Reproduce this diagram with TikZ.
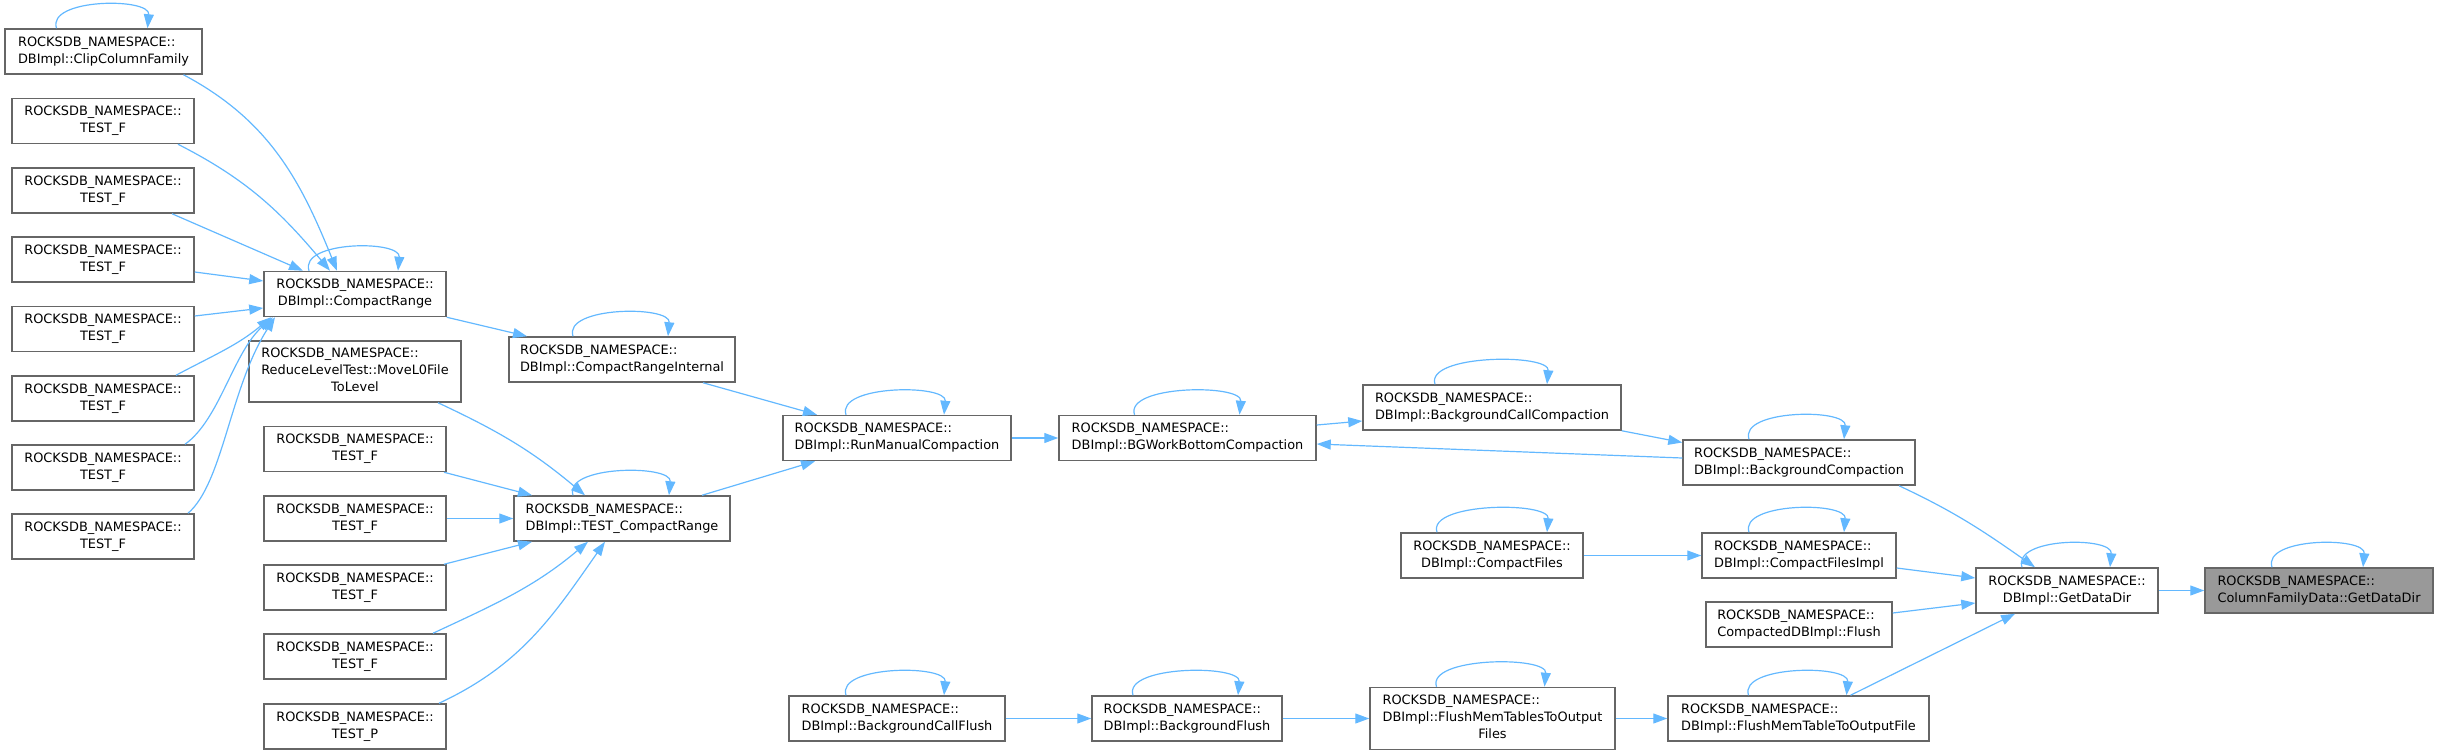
\documentclass[tikz,border=0pt]{standalone}
\usepackage{fontspec}
\setmainfont{DejaVu Sans}
\usepackage{xcolor}
\usepackage{tikz}
\usetikzlibrary{arrows.meta}

\definecolor{edgeblue}{HTML}{63B8FF}
\definecolor{boxgray}{HTML}{666666}
\definecolor{focusgray}{HTML}{999999}

\newcommand{\fname}[2]{\begin{tabular}{@{}l@{}}#1\\\multicolumn{1}{@{}c@{}}{#2}\end{tabular}}
\newcommand{\selfcall}[3]{\draw[call] ([xshift=-#2pt]#1.north) .. controls +(-10,30) and +(3,31) .. ([xshift=#3pt]#1.north);}

\begin{document}
\begin{tikzpicture}[
  x=1pt, y=1pt,
  >={Triangle[length=14pt,width=10pt]},
  func/.style={rectangle, draw=boxgray, line width=1.5pt, fill=white, minimum height=45pt, inner sep=3pt, font=\fontsize{12.9pt}{17pt}\selectfont},
  focus/.style={func, fill=focusgray},
  call/.style={->, draw=edgeblue, line width=1.2pt},
]
  \useasboundingbox (0,0) rectangle (2439,-755);

  \node[func, minimum width=197pt] (clip) at (103.5,-51.5) {\fname{ROCKSDB\_NAMESPACE::}{DBImpl::ClipColumnFamily}};
  \node[func, minimum width=182pt] (tf1) at (103,-121) {\fname{ROCKSDB\_NAMESPACE::}{TEST\_F}};
  \node[func, minimum width=182pt] (tf2) at (103,-190.5) {\fname{ROCKSDB\_NAMESPACE::}{TEST\_F}};
  \node[func, minimum width=182pt] (tf3) at (103,-259.5) {\fname{ROCKSDB\_NAMESPACE::}{TEST\_F}};
  \node[func, minimum width=182pt] (tf4) at (103,-329) {\fname{ROCKSDB\_NAMESPACE::}{TEST\_F}};
  \node[func, minimum width=182pt] (tf5) at (103,-398.5) {\fname{ROCKSDB\_NAMESPACE::}{TEST\_F}};
  \node[func, minimum width=182pt] (tf6) at (103,-467.5) {\fname{ROCKSDB\_NAMESPACE::}{TEST\_F}};
  \node[func, minimum width=182pt] (tf7) at (103,-536.5) {\fname{ROCKSDB\_NAMESPACE::}{TEST\_F}};

  \node[func, minimum width=182pt] (crange) at (355,-294) {\fname{ROCKSDB\_NAMESPACE::}{DBImpl::CompactRange}};
  \node[func, minimum width=212pt, minimum height=61pt] (move) at (355,-371.5) {\fname{ROCKSDB\_NAMESPACE::\\ReduceLevelTest::MoveL0File}{ToLevel}};
  \node[func, minimum width=182pt] (mtf1) at (355,-449) {\fname{ROCKSDB\_NAMESPACE::}{TEST\_F}};
  \node[func, minimum width=182pt] (mtf2) at (355,-518.5) {\fname{ROCKSDB\_NAMESPACE::}{TEST\_F}};
  \node[func, minimum width=182pt] (mtf3) at (355,-587.5) {\fname{ROCKSDB\_NAMESPACE::}{TEST\_F}};
  \node[func, minimum width=182pt] (mtf4) at (355,-656.5) {\fname{ROCKSDB\_NAMESPACE::}{TEST\_F}};
  \node[func, minimum width=182pt] (mtp) at (355,-726.5) {\fname{ROCKSDB\_NAMESPACE::}{TEST\_P}};

  \node[func, minimum width=226pt] (crint) at (622,-359.5) {\fname{ROCKSDB\_NAMESPACE::}{DBImpl::CompactRangeInternal}};
  \node[func, minimum width=216pt] (tcr) at (622,-518.5) {\fname{ROCKSDB\_NAMESPACE::}{DBImpl::TEST\_CompactRange}};

  \node[func, minimum width=228pt] (rmc) at (897,-438) {\fname{ROCKSDB\_NAMESPACE::}{DBImpl::RunManualCompaction}};
  \node[func, minimum width=216pt] (bgcf) at (897,-718.5) {\fname{ROCKSDB\_NAMESPACE::}{DBImpl::BackgroundCallFlush}};

  \node[func, minimum width=257pt] (bgw) at (1187.5,-438) {\fname{ROCKSDB\_NAMESPACE::}{DBImpl::BGWorkBottomCompaction}};
  \node[func, minimum width=190pt] (bgf) at (1187,-718.5) {\fname{ROCKSDB\_NAMESPACE::}{DBImpl::BackgroundFlush}};

  \node[func, minimum width=258pt] (bgcc) at (1492,-407.5) {\fname{ROCKSDB\_NAMESPACE::}{DBImpl::BackgroundCallCompaction}};
  \node[func, minimum width=182pt] (cfiles) at (1492,-555.5) {\fname{ROCKSDB\_NAMESPACE::}{DBImpl::CompactFiles}};
  \node[func, minimum width=245pt, minimum height=62pt] (fmtof) at (1492.5,-718.5) {\fname{ROCKSDB\_NAMESPACE::\\DBImpl::FlushMemTablesToOutput}{Files}};

  \node[func, minimum width=232pt] (bgc) at (1799,-462.5) {\fname{ROCKSDB\_NAMESPACE::}{DBImpl::BackgroundCompaction}};
  \node[func, minimum width=194pt] (cfimpl) at (1799,-555.5) {\fname{ROCKSDB\_NAMESPACE::}{DBImpl::CompactFilesImpl}};
  \node[func, minimum width=186pt] (cflush) at (1799,-624.5) {\fname{ROCKSDB\_NAMESPACE::}{CompactedDBImpl::Flush}};
  \node[func, minimum width=261pt] (fmtof1) at (1798.5,-718.5) {\fname{ROCKSDB\_NAMESPACE::}{DBImpl::FlushMemTableToOutputFile}};

  \node[func, minimum width=182pt] (gdd) at (2067,-590.5) {\fname{ROCKSDB\_NAMESPACE::}{DBImpl::GetDataDir}};
  \node[focus, minimum width=228pt] (cfd) at (2319,-590.5) {\fname{ROCKSDB\_NAMESPACE::}{ColumnFamilyData::GetDataDir}};

  \selfcall{clip}{47}{44}
  \draw[call] ([xshift=80pt]clip.south) to[out=-28,in=112] ([xshift=-18pt]crange.north);
  \draw[call] ([xshift=75pt]tf1.south) to[out=-27,in=130] ([xshift=-25pt]crange.north);
  \draw[call] ([xshift=69pt]tf2.south) -- ([xshift=-52pt]crange.north);
  \draw[call] ([yshift=-12.5pt]tf3.east) -- ([yshift=13pt]crange.west);
  \draw[call] ([yshift=13pt]tf4.east) -- ([yshift=-14pt]crange.west);
  \draw[call] ([xshift=73pt]tf5.north) to[out=28,in=220] ([xshift=-84pt]crange.south);
  \draw[call] ([xshift=82pt]tf6.north) .. controls +(35,25) and +(-40,-35) .. ([xshift=-82pt]crange.south);
  \draw[call] ([xshift=85pt]tf7.north) .. controls +(35,30) and +(-45,-70) .. ([xshift=-80pt]crange.south);
  \selfcall{crange}{46}{43}
  \draw[call] (crange.south east) -- ([xshift=-95pt]crint.north);
  \selfcall{crint}{49}{46}
  \draw[call] ([xshift=81pt]crint.south) -- ([xshift=-80pt]rmc.north);

  \draw[call] ([xshift=83pt]move.south) to[out=-25,in=140] ([xshift=-37pt]tcr.north);
  \draw[call] ([xshift=89pt]mtf1.south) -- ([xshift=-90pt]tcr.north);
  \draw[call] (mtf2.east) -- (tcr.west);
  \draw[call] ([xshift=89pt]mtf3.north) -- ([xshift=-90pt]tcr.south);
  \draw[call] ([xshift=78pt]mtf4.north) to[out=25,in=-140] ([xshift=-34pt]tcr.south);
  \draw[call] ([xshift=84pt]mtp.north) to[out=25,in=-125] ([xshift=-17pt]tcr.south);
  \selfcall{tcr}{49}{47}
  \draw[call] ([xshift=80pt]tcr.north) -- ([xshift=-82pt]rmc.south);

  \selfcall{rmc}{51}{47}
  \draw[call] (rmc.east) -- (bgw.west);
  \selfcall{bgw}{53}{52}
  \draw[call] ([yshift=13pt]bgw.east) -- ([yshift=-13.5pt]bgcc.west);
  \selfcall{bgcc}{57}{55}
  \draw[call] (bgcc.south east) -- ([yshift=20pt]bgc.west);
  \draw[call] ([yshift=4.5pt]bgc.west) -- ([yshift=-6pt]bgw.east);
  \selfcall{bgc}{50}{45}
  \draw[call] ([xshift=100pt]bgc.south) to[out=-25,in=145] ([xshift=-32pt]gdd.north);

  \selfcall{cfiles}{55}{55}
  \draw[call] (cfiles.east) -- (cfimpl.west);
  \selfcall{cfimpl}{50}{45}
  \draw[call] ([yshift=-12.5pt]cfimpl.east) -- ([yshift=12.5pt]gdd.west);
  \draw[call] ([yshift=11.5pt]cflush.east) -- ([yshift=-12.5pt]gdd.west);

  \selfcall{bgcf}{51}{47}
  \draw[call] (bgcf.east) -- (bgf.west);
  \selfcall{bgf}{54}{51}
  \draw[call] (bgf.east) -- (fmtof.west);
  \selfcall{fmtof}{56}{52}
  \draw[call] (fmtof.east) -- (fmtof1.west);
  \selfcall{fmtof1}{50}{48}
  \draw[call] ([xshift=52pt]fmtof1.north) -- ([xshift=-52pt]gdd.south);

  \selfcall{gdd}{45}{43}
  \draw[call] (gdd.east) -- (cfd.west);
  \selfcall{cfd}{47}{44}
\end{tikzpicture}
\end{document}
